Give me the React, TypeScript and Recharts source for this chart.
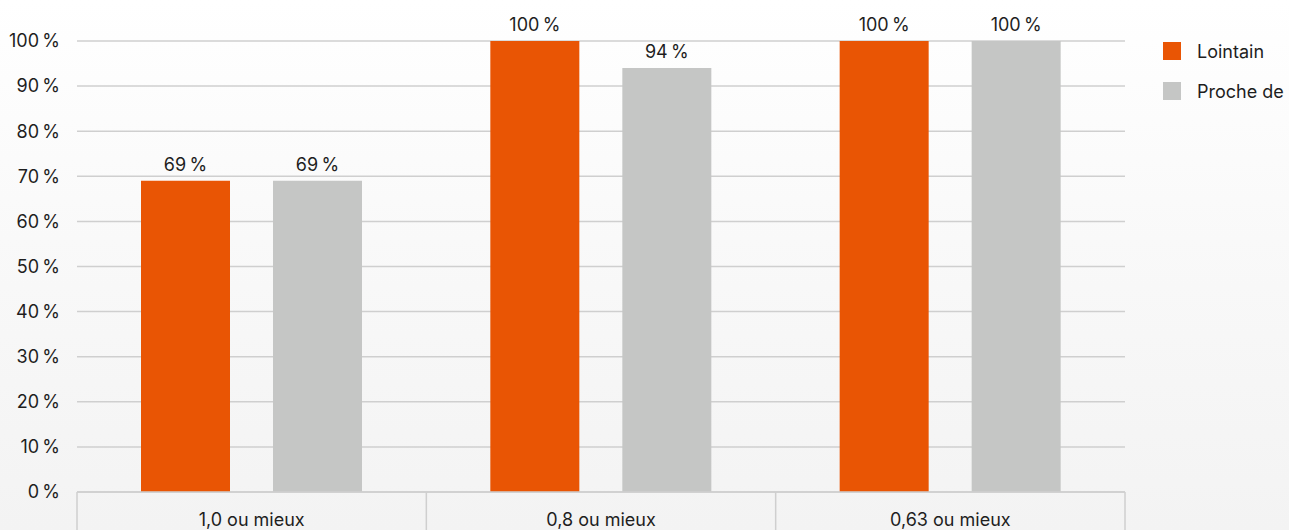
import React from 'react';
import { BarChart, Bar, XAxis, YAxis, CartesianGrid, LabelList } from 'recharts';

// Categories and series values (percent)
const categories = ['1,0 ou mieux', '0,8 ou mieux', '0,63 ou mieux'];
const lointain = [69, 100, 100];
const procheDe = [69, 94, 100];
const yTicks = [0, 10, 20, 30, 40, 50, 60, 70, 80, 90, 100];
const seriesNames = ['Lointain', 'Proche de'];
const seriesColors = ['#E95504', '#C5C6C5'];

const data = categories.map((c, i) => ({ cat: c, lointain: lointain[i], proche: procheDe[i] }));

const FONT = 'Inter, "Noto Sans", sans-serif';
const FS = 18;
const TEXT = '#1e1e1e';
const GRID = '#cfcfcf';
const pct = (v: number) => `${v}\u202F%`;

const W = 1289;
const H = 530;
const M = { top: 41, right: 164, left: 0, bottom: 0 };
const Y_AXIS_W = 77;
const X_AXIS_H = 38;
const plotW = W - M.left - M.right - Y_AXIS_W;
const band = plotW / categories.length;

// Category label plus separators at the band edges, running down from the baseline
const CategoryTick = (props: any) => {
  const { x, y, payload, index } = props;
  const half = band / 2;
  return (
    <g>
      <line x1={x - half} x2={x - half} y1={y} y2={H} stroke={GRID} strokeWidth={1.5} />
      {index === categories.length - 1 && (
        <line x1={x + half} x2={x + half} y1={y} y2={H} stroke={GRID} strokeWidth={1.5} />
      )}
      <text x={x} y={y + 34} textAnchor="middle" fontSize={FS} fontFamily={FONT} fill={TEXT}>
        {payload.value}
      </text>
    </g>
  );
};

const Legend = () => (
  <div style={{ position: 'absolute', left: 1163, top: 42, fontFamily: FONT, fontSize: FS, color: TEXT }}>
    {seriesNames.map((n, i) => (
      <div key={n} style={{ display: 'flex', alignItems: 'center', height: 18, marginBottom: 22, whiteSpace: 'nowrap' }}>
        <span style={{ width: 18, height: 18, background: seriesColors[i], display: 'inline-block', marginRight: 16, flex: 'none' }} />
        <span>{n}</span>
      </div>
    ))}
  </div>
);

export default function App() {
  return (
    <div
      style={{
        position: 'absolute',
        left: 0,
        top: 0,
        width: W,
        height: H,
        overflow: 'hidden',
        background: 'linear-gradient(180deg, #ffffff 0%, #f9f9f9 45%, #f3f3f3 100%)',
      }}
    >
      <BarChart width={W} height={H} data={data} margin={M} barCategoryGap={64} barGap={43}>
        <CartesianGrid vertical={false} stroke={GRID} strokeWidth={1.5} />
        <XAxis
          dataKey="cat"
          height={X_AXIS_H}
          axisLine={{ stroke: GRID, strokeWidth: 1.5 }}
          tickLine={false}
          tickSize={0}
          tickMargin={0}
          tick={<CategoryTick />}
          interval={0}
        />
        <YAxis
          width={Y_AXIS_W}
          domain={[0, 100]}
          ticks={yTicks}
          axisLine={false}
          tickLine={false}
          tickSize={0}
          tickMargin={17}
          tickFormatter={pct}
          tick={{ fontSize: FS, fontFamily: FONT, fill: TEXT }}
          interval={0}
        />
        <Bar dataKey="lointain" name={seriesNames[0]} fill={seriesColors[0]} isAnimationActive={false}>
          <LabelList dataKey="lointain" position="top" offset={10} formatter={pct as any} fontSize={FS} fontFamily={FONT} fill={TEXT} />
        </Bar>
        <Bar dataKey="proche" name={seriesNames[1]} fill={seriesColors[1]} isAnimationActive={false}>
          <LabelList dataKey="proche" position="top" offset={10} formatter={pct as any} fontSize={FS} fontFamily={FONT} fill={TEXT} />
        </Bar>
      </BarChart>
      <Legend />
    </div>
  );
}
